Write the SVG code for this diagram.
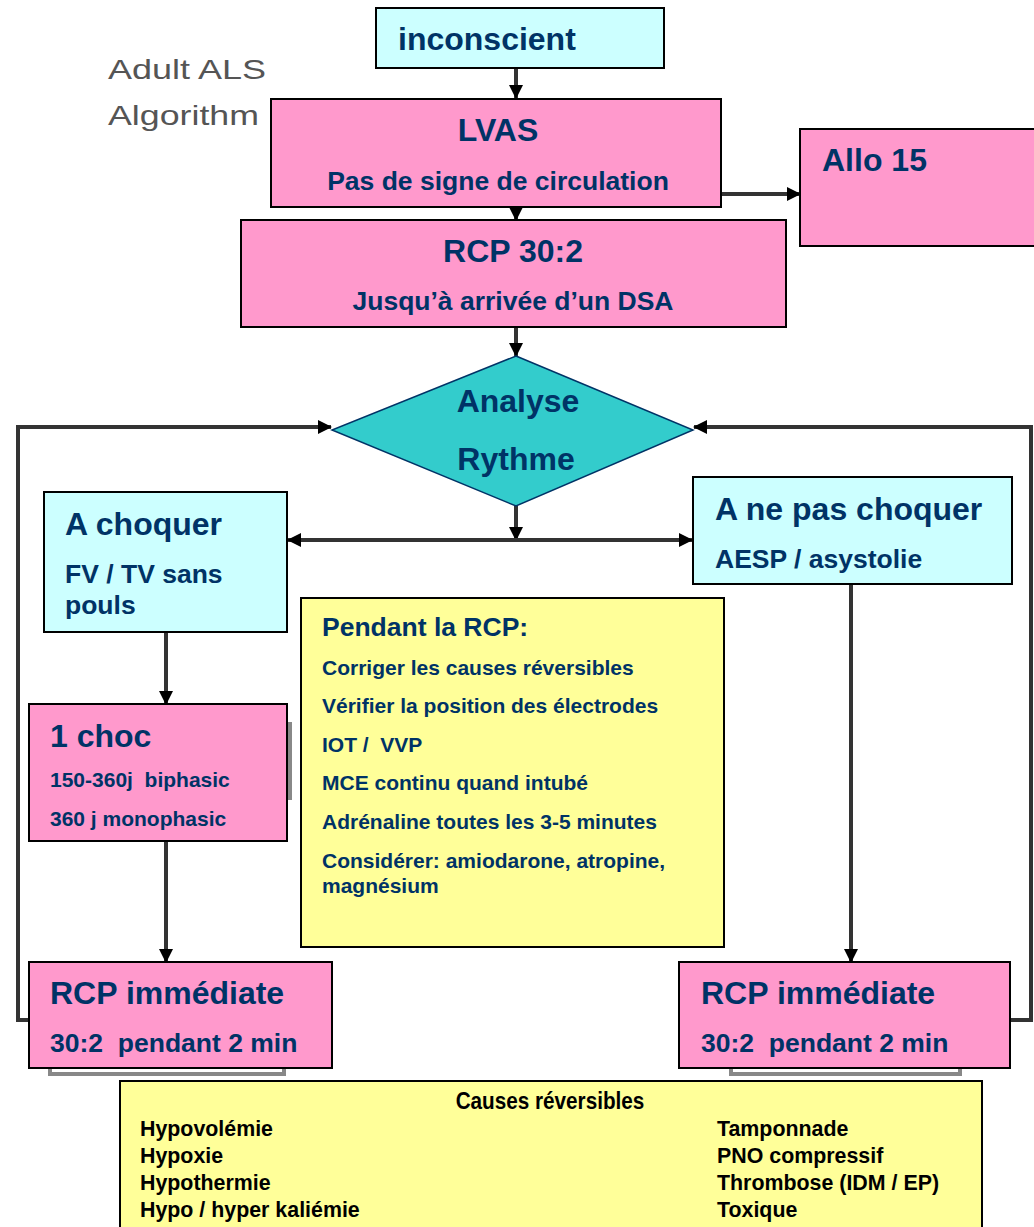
<svg xmlns="http://www.w3.org/2000/svg" width="1034" height="1227" viewBox="0 0 1034 1227">
<style>
.box{stroke:#000;stroke-width:2}
.cyan{fill:#ccffff}
.pink{fill:#ff99cc}
.yel{fill:#ffff99}
.dia{fill:#33cccc;stroke:#003366;stroke-width:1.5}
text{font-family:"Liberation Sans",Arial,sans-serif;font-weight:bold;fill:#003366;white-space:pre}
.t1{font-size:32px}
.t2{font-size:26.5px}
.t3{font-size:21px}
.cz{font-size:23px;fill:#000}
.gray{font-weight:normal;fill:#555;font-size:28px}
.con{fill:none;stroke:#333;stroke-width:4}
.shadow{fill:none;stroke:#888;stroke-width:4}
</style>
<defs>
<marker id="ah" markerUnits="userSpaceOnUse" markerWidth="16" markerHeight="16" refX="13" refY="8" orient="auto">
<path d="M0,1 L14,8 L0,15 z" fill="#000"/>
</marker>
</defs>
<rect width="1034" height="1227" fill="#fff"/>

<g id="title">
<text class="gray" x="108" y="79" textLength="158" lengthAdjust="spacingAndGlyphs">Adult ALS</text>
<text class="gray" x="108" y="125" textLength="151" lengthAdjust="spacingAndGlyphs">Algorithm</text>
</g>

<g id="connectors">
<line class="con" x1="516" y1="68" x2="516" y2="98" marker-end="url(#ah)"/>
<line class="con" x1="516" y1="207" x2="516" y2="220" marker-end="url(#ah)"/>
<line class="con" x1="721" y1="194" x2="800" y2="194" stroke-width="3" marker-end="url(#ah)"/>
<line class="con" x1="516" y1="327" x2="516" y2="356" marker-end="url(#ah)"/>
<line class="con" x1="516" y1="506" x2="516" y2="540" marker-end="url(#ah)"/>
<line class="con" x1="516" y1="540" x2="288" y2="540" marker-end="url(#ah)"/>
<line class="con" x1="516" y1="540" x2="692" y2="540" marker-end="url(#ah)"/>
<line class="con" x1="166" y1="632" x2="166" y2="704" marker-end="url(#ah)"/>
<line class="con" x1="166" y1="841" x2="166" y2="962" marker-end="url(#ah)"/>
<line class="con" x1="851" y1="584" x2="851" y2="962" marker-end="url(#ah)"/>
<polyline class="con" points="29,1020 18,1020 18,427 331,427" marker-end="url(#ah)"/>
<polyline class="con" points="1010,1020 1031,1020 1031,427 694,427" marker-end="url(#ah)"/>
</g>

<g id="inconscient">
<rect class="box cyan" x="376" y="8" width="288" height="60"/>
<text class="t1" x="398" y="50">inconscient</text>
</g>

<g id="lvas">
<rect class="box pink" x="271" y="99" width="450" height="108"/>
<text class="t1" x="498" y="141" text-anchor="middle">LVAS</text>
<text class="t2" x="498" y="190" text-anchor="middle">Pas de signe de circulation</text>
</g>

<g id="allo15">
<rect class="box pink" x="800" y="129" width="240" height="117"/>
<text class="t1" x="822" y="171">Allo 15</text>
</g>

<g id="rcp302">
<rect class="box pink" x="241" y="220" width="545" height="107"/>
<text class="t1" x="513" y="262" text-anchor="middle">RCP 30:2</text>
<text class="t2" x="513" y="310" text-anchor="middle">Jusqu’à arrivée d’un DSA</text>
</g>

<g id="analyse">
<polygon class="dia" points="516,356 693,430 516,506 332,430"/>
<text class="t1" x="518" y="412" text-anchor="middle">Analyse</text>
<text class="t1" x="516" y="470" text-anchor="middle">Rythme</text>
</g>

<g id="achoquer">
<rect class="box cyan" x="44" y="492" width="243" height="140"/>
<text class="t1" x="65" y="535">A choquer</text>
<text class="t2" x="65" y="583">FV / TV sans</text>
<text class="t2" x="65" y="614">pouls</text>
</g>

<g id="anepas">
<rect class="box cyan" x="693" y="477" width="319" height="107"/>
<text class="t1" x="715" y="520">A ne pas choquer</text>
<text class="t2" x="715" y="568">AESP / asystolie</text>
</g>

<g id="choc">
<line class="shadow" x1="290" y1="722" x2="290" y2="800"/>
<rect class="box pink" x="29" y="704" width="258" height="137"/>
<text class="t1" x="50" y="747">1 choc</text>
<text class="t3" x="50" y="787">150-360j  biphasic</text>
<text class="t3" x="50" y="826">360 j monophasic</text>
</g>

<g id="pendant">
<rect class="box yel" x="301" y="598" width="423" height="349"/>
<text class="t2" x="322" y="636">Pendant la RCP:</text>
<text class="t3" x="322" y="675">Corriger les causes réversibles</text>
<text class="t3" x="322" y="713">Vérifier la position des électrodes</text>
<text class="t3" x="322" y="752">IOT /  VVP</text>
<text class="t3" x="322" y="790">MCE continu quand intubé</text>
<text class="t3" x="322" y="829">Adrénaline toutes les 3-5 minutes</text>
<text class="t3" x="322" y="868">Considérer: amiodarone, atropine,</text>
<text class="t3" x="322" y="893">magnésium</text>
</g>

<g id="rcpleft">
<path class="shadow" d="M50,1068 V1074 H284 V1068"/>
<rect class="box pink" x="29" y="962" width="303" height="106"/>
<text class="t1" x="50" y="1004">RCP immédiate</text>
<text class="t2" x="50" y="1052">30:2  pendant 2 min</text>
</g>

<g id="rcpright">
<path class="shadow" d="M731,1068 V1074 H960 V1068"/>
<rect class="box pink" x="679" y="962" width="331" height="106"/>
<text class="t1" x="701" y="1004">RCP immédiate</text>
<text class="t2" x="701" y="1052">30:2  pendant 2 min</text>
</g>

<g id="causes">
<rect class="box yel" x="120" y="1081" width="862" height="150"/>
<text class="cz" transform="translate(550,1109) scale(0.9,1)" text-anchor="middle">Causes réversibles</text>
<text class="cz" transform="translate(140,1136) scale(0.93,1)">Hypovolémie</text>
<text class="cz" transform="translate(140,1163) scale(0.93,1)">Hypoxie</text>
<text class="cz" transform="translate(140,1190) scale(0.93,1)">Hypothermie</text>
<text class="cz" transform="translate(140,1217) scale(0.93,1)">Hypo / hyper kaliémie</text>
<text class="cz" transform="translate(717,1136) scale(0.93,1)">Tamponnade</text>
<text class="cz" transform="translate(717,1163) scale(0.93,1)">PNO compressif</text>
<text class="cz" transform="translate(717,1190) scale(0.93,1)">Thrombose (IDM / EP)</text>
<text class="cz" transform="translate(717,1217) scale(0.93,1)">Toxique</text>
</g>
</svg>
